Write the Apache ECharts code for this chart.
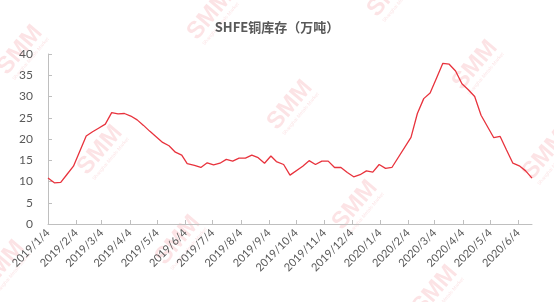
<!DOCTYPE html>
<html>
<head>
<meta charset="utf-8">
<script src="https://cdn.jsdelivr.net/npm/echarts@6/dist/echarts.min.js"></script>
<style>
html,body{margin:0;padding:0;background:#fff;}
#chart{width:554px;height:302px;}
</style>
</head>
<body>
<div id="chart"></div>
<script>
// Weekly dates (Fridays; holiday weeks without data omitted)
var weekDates = [
  '2019-01-04','2019-01-11','2019-01-18','2019-01-25','2019-02-01',
  '2019-02-15','2019-02-22','2019-03-01','2019-03-08','2019-03-15','2019-03-22','2019-03-29',
  '2019-04-05','2019-04-12','2019-04-19','2019-04-26',
  '2019-05-10','2019-05-17','2019-05-24','2019-05-31',
  '2019-06-06','2019-06-14','2019-06-21','2019-06-28',
  '2019-07-05','2019-07-12','2019-07-19','2019-07-26',
  '2019-08-02','2019-08-09','2019-08-16','2019-08-23','2019-08-30',
  '2019-09-06','2019-09-12','2019-09-20','2019-09-27',
  '2019-10-11','2019-10-18','2019-10-25',
  '2019-11-01','2019-11-08','2019-11-15','2019-11-22','2019-11-29',
  '2019-12-06','2019-12-13','2019-12-20','2019-12-27',
  '2020-01-03','2020-01-10','2020-01-17',
  '2020-02-07','2020-02-14','2020-02-21','2020-02-28',
  '2020-03-06','2020-03-13','2020-03-20','2020-03-27',
  '2020-04-03','2020-04-10','2020-04-17','2020-04-24',
  '2020-05-08','2020-05-15','2020-05-22','2020-05-29',
  '2020-06-05','2020-06-12','2020-06-19'
];
// SHFE copper inventory (10k tonnes)
var inventory = [
  10.8, 9.7, 9.8, 11.7, 13.6,
  20.7, 21.7, 22.6, 23.5, 26.2, 25.9, 26.0,
  25.4, 24.5, 23.2, 21.8,
  19.2, 18.4, 16.9, 16.2,
  14.2, 13.8, 13.3, 14.4,
  13.9, 14.3, 15.2, 14.8,
  15.5, 15.5, 16.2, 15.6, 14.3,
  16.0, 14.7, 14.0, 11.5,
  13.6, 14.9, 14.0,
  14.8, 14.8, 13.3, 13.3, 12.1,
  11.1, 11.6, 12.5, 12.2,
  14.0, 13.1, 13.3,
  20.4, 26.0, 29.5, 30.8,
  34.3, 37.8, 37.6, 36.0,
  33.0, 31.6, 30.0, 25.6,
  20.3, 20.6, 17.4, 14.3,
  13.7, 12.5, 10.8
];
// X axis tick labels (monthly)
var monthTicks = [
  '2019-01-04','2019-02-04','2019-03-04','2019-04-04','2019-05-04','2019-06-04',
  '2019-07-04','2019-08-04','2019-09-04','2019-10-04','2019-11-04','2019-12-04',
  '2020-01-04','2020-02-04','2020-03-04','2020-04-04','2020-05-04','2020-06-04'
];
var axisStart = '2019-01-04';
var axisEnd = '2020-06-19';

var DAY = 86400000;
function utc(s){ var p = s.split('-'); return Date.UTC(+p[0], +p[1]-1, +p[2]); }
var t0 = utc(axisStart);
function dayOf(s){ return Math.round((utc(s) - t0) / DAY); }
function labelOf(n){ var d = new Date(t0 + n * DAY); return d.getUTCFullYear() + '/' + (d.getUTCMonth()+1) + '/' + d.getUTCDate(); }

var seriesData = weekDates.map(function(d, i){ return [dayOf(d), inventory[i]]; });
var tickValues = monthTicks.map(dayOf);

var wmSpots = [[20,50],[210,15],[100,150],[290,105],[475,65],[545,155],[355,205],[178,240],[435,290],[2,265],[390,-8]];
var wmColor = 'rgba(236,70,80,0.15)';
var graphics = wmSpots.map(function(p){
  return {
    type: 'group', x: p[0], y: p[1], rotation: 50*Math.PI/180, silent: true, z: 0,
    children: [
      { type: 'text', x: 0, y: 0, style: { text: 'SMM', font: 'bold 24px "Liberation Sans"', fill: wmColor, align: 'center', verticalAlign: 'middle' } },
      { type: 'text', x: 0, y: 14, style: { text: 'Shanghai Metals Market', font: '5px "Liberation Sans"', fill: wmColor, align: 'center', verticalAlign: 'middle' } }
    ]
  };
});

var chart = echarts.init(document.getElementById('chart'), null, {renderer: 'canvas'});
chart.setOption({
  animation: false,
  backgroundColor: '#ffffff',
  title: {
    text: 'SHFE铜库存（万吨）',
    left: 'center',
    top: 16,
    textStyle: { fontFamily: '"Noto Sans CJK SC"', fontSize: 13, fontWeight: 'bold', color: '#595959' }
  },
  grid: { left: 48, right: 22, top: 54, bottom: 78, containLabel: false },
  xAxis: {
    type: 'value',
    min: 0,
    max: dayOf(axisEnd),
    axisLine: { show: true, lineStyle: { color: '#bfbfbf', width: 1 } },
    axisTick: { show: true, inside: true, length: 4, lineStyle: { color: '#bfbfbf' }, customValues: tickValues },
    axisLabel: {
      customValues: tickValues,
      rotate: 45,
      margin: 7,
      fontSize: 11,
      fontFamily: 'Lato',
      color: '#595959',
      formatter: function(v){ return labelOf(v); }
    },
    splitLine: { show: false }
  },
  yAxis: {
    type: 'value',
    min: 0, max: 40, interval: 5,
    axisLine: { show: true, lineStyle: { color: '#bfbfbf', width: 1 } },
    axisTick: { show: true, inside: true, length: 4, lineStyle: { color: '#bfbfbf' } },
    axisLabel: { fontSize: 12, fontFamily: 'Lato', color: '#595959', margin: 15 },
    splitLine: { show: false }
  },
  graphic: graphics,
  series: [{
    type: 'line',
    data: seriesData,
    showSymbol: false,
    symbol: 'none',
    smooth: false,
    z: 5,
    lineStyle: { color: '#e8333d', width: 1.3 }
  }]
});
</script>
</body>
</html>
